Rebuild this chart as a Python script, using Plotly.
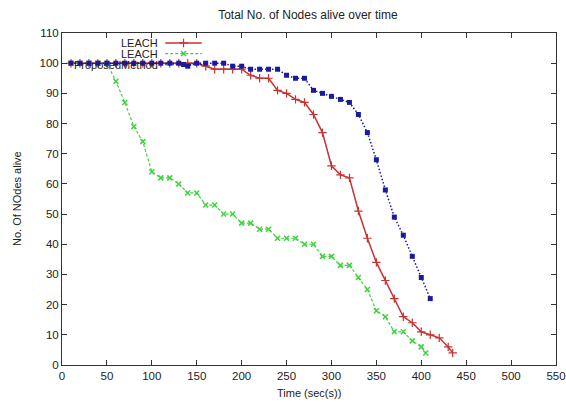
import plotly.graph_objects as go

# ---- data ----
blue_x = list(range(10, 420, 10))
blue_y = [100]*13 + [99] + [100]*4 + [99, 99] + [98]*4 + [96, 95, 95, 91, 90, 89, 88, 87, 83, 77, 68, 58, 49, 43, 36, 29, 22]

red_x = list(range(10, 440, 10)) + [435]
red_y = [100]*15 + [99, 98, 98, 98, 98, 96, 95, 95, 91, 90, 88, 87, 83, 77, 66, 63, 62, 51, 42,
                     34, 28, 22, 16, 14, 11, 10, 9, 6, 4]
red_x = red_x[:len(red_y)-1] + [435]

green_x = list(range(10, 410, 10)) + [405]
green_y = [100]*5 + [94, 87, 79, 74, 64, 62, 62, 60, 57, 57, 53, 53, 50, 50, 47, 47, 45, 45,
                     42, 42, 42, 40, 40, 36, 36, 33, 33, 29, 25, 18, 16, 11, 11, 8, 6, 4]

series_names = ["LEACH", "LEACH", "ProposedMethod"]
x_ticks = list(range(0, 551, 50))
y_ticks = list(range(0, 111, 10))

RED = "#c83232"
GREEN = "#3fd23f"
BLUE = "#1a1a9e"
TXT = "#222"
FONT = "Liberation Sans, Arial, sans-serif"

red_line = dict(color=RED, width=1.5)
red_mk = dict(symbol="cross-thin", size=6, line=dict(color=RED, width=1.2))
green_line = dict(color=GREEN, width=1.2, dash="3px,2px")
green_mk = dict(symbol="x-thin", size=5, line=dict(color=GREEN, width=1.5))
blue_line = dict(color=BLUE, width=1.5, dash="1.5px,2px")
blue_mk = dict(symbol="square", size=5, color=BLUE)

fig = go.Figure()
fig.add_trace(go.Scatter(x=red_x, y=red_y, mode="lines+markers", name=series_names[0],
                         line=red_line, marker=red_mk, showlegend=False))
fig.add_trace(go.Scatter(x=green_x, y=green_y, mode="lines+markers", name=series_names[1],
                         line=green_line, marker=green_mk, showlegend=False))
fig.add_trace(go.Scatter(x=blue_x, y=blue_y, mode="lines+markers", name=series_names[2],
                         line=blue_line, marker=blue_mk, showlegend=False))

# legend keys (gnuplot style: text left, sample right) on an overlay 0..1 axis
key_rows = [0.970, 0.938, 0.905]
key_styles = [(red_line, red_mk), (green_line, green_mk), (blue_line, blue_mk)]
for name, yk, (ln, mk) in zip(series_names, key_rows, key_styles):
    fig.add_trace(go.Scatter(x=[0.209, 0.283], y=[yk, yk], mode="lines", line=ln,
                             xaxis="x2", yaxis="y2", showlegend=False, hoverinfo="skip"))
    fig.add_trace(go.Scatter(x=[0.246], y=[yk], mode="markers", marker=mk,
                             xaxis="x2", yaxis="y2", showlegend=False, hoverinfo="skip"))
    fig.add_annotation(x=0.199, y=yk, xref="paper", yref="paper", text=name, showarrow=False,
                       xanchor="right", yanchor="middle",
                       font=dict(family=FONT, size=11, color=TXT))

# axis titles
fig.add_annotation(x=0.5, y=-0.084, xref="paper", yref="paper", text="Time (sec(s))",
                   showarrow=False, xanchor="center", yanchor="middle",
                   font=dict(family=FONT, size=11, color=TXT))
fig.add_annotation(x=-0.091, y=0.5, xref="paper", yref="paper", text="No. Of NOdes alive",
                   showarrow=False, xanchor="center", yanchor="middle", textangle=-90,
                   font=dict(family=FONT, size=11, color=TXT))

axis_common = dict(showline=True, linecolor="#333", linewidth=1, mirror="ticks",
                   ticks="inside", ticklen=5, tickcolor="#333", showgrid=False, zeroline=False,
                   automargin=False, ticklabeloverflow="allow",
                   tickfont=dict(family=FONT, size=11.5, color=TXT))
fig.update_layout(
    width=566, height=403,
    margin=dict(l=62, r=10, t=33, b=38),
    paper_bgcolor="white", plot_bgcolor="white",
    title=dict(text="Total No. of Nodes alive over time", x=0.544, xanchor="center",
               y=0.963, yanchor="middle", font=dict(family=FONT, size=12, color=TXT)),
    xaxis=dict(range=[0, 550], tickvals=x_ticks, **axis_common),
    yaxis=dict(range=[0, 110], tickvals=y_ticks, **axis_common),
    xaxis2=dict(overlaying="x", range=[0, 1], visible=False),
    yaxis2=dict(overlaying="y", range=[0, 1], visible=False),
    showlegend=False,
)

fig.write_html("out.html", config={"displayModeBar": False},
               post_script="document.body.style.margin='0';document.body.style.overflow='hidden';")
